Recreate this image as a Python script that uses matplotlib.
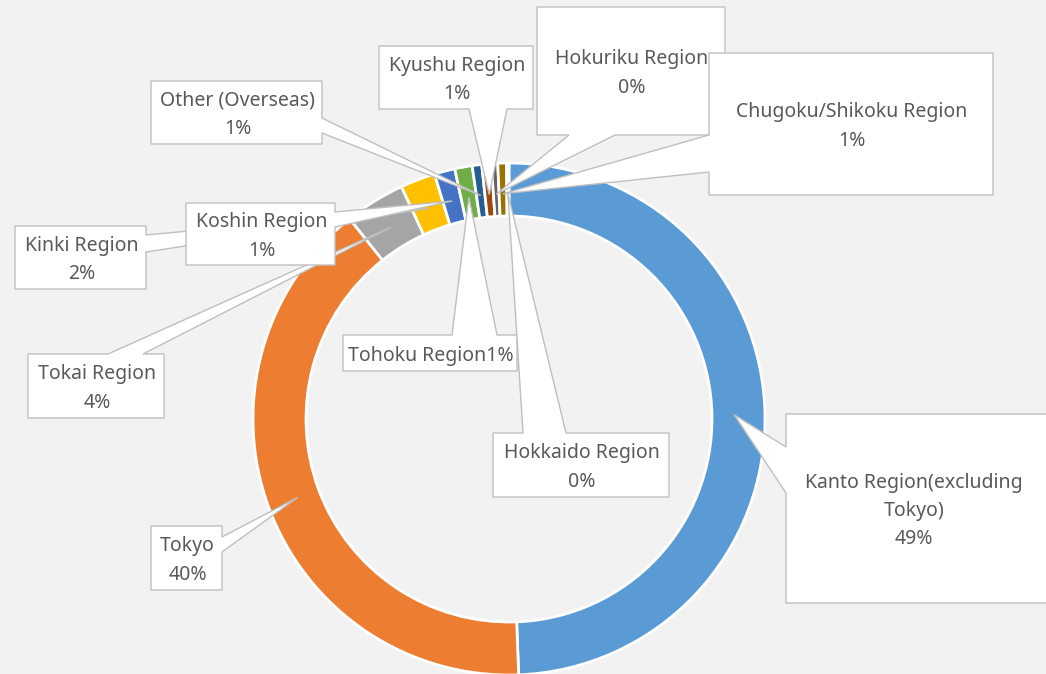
import numpy as np
import matplotlib
matplotlib.use("Agg")
import matplotlib.pyplot as plt
from matplotlib.patches import Polygon

# region shares (percent), clockwise from 12 o'clock
regions = ["Kanto Region(excluding\nTokyo)", "Tokyo", "Tokai Region", "Kinki Region",
           "Koshin Region", "Tohoku Region", "Other (Overseas)", "Kyushu Region",
           "Hokuriku Region", "Chugoku/Shikoku Region", "Hokkaido Region"]
shares = [49.4, 39.9, 3.8, 2.2, 1.3, 1.1, 0.6, 0.6, 0.4, 0.55, 0.15]
colors = ["#5B9BD5", "#ED7D31", "#A5A5A5", "#FFC000", "#4472C4", "#70AD47",
          "#255E91", "#9E480E", "#636363", "#997300", "#264478"]

W, H = 1046, 674
cx, cy, R = 509, 419, 256

# callout boxes in pixel coords: (left, top, right, bottom), tail side, tail base
boxes = [
    ((786, 414, 1060, 603), "left", (447, 493)),
    ((151, 526, 222, 590), "right", (537, 552)),
    ((28, 354, 164, 418), "top", (108, 143)),
    ((15, 226, 146, 289), "right", (235, 252)),
    ((186, 203, 335, 265), "right", (212, 227)),
    ((343, 335, 517, 371), "top", (452, 497)),
    ((151, 81, 322, 144), "right", (118, 133)),
    ((379, 46, 533, 109), "bottom", (469, 507)),
    ((537, 7, 725, 135), "bottom", (569, 615)),
    ((709, 53, 993, 195), "left", (135, 172)),
    ((493, 433, 669, 497), "top", (523, 566)),
]
single_line = {"Tohoku Region"}

fig = plt.figure(figsize=(W / 100, H / 100), dpi=100)
fig.patch.set_facecolor("#F2F2F2")
ax = fig.add_axes([0, 0, 1, 1])
ax.set_facecolor("#F2F2F2")

ax.pie(shares, colors=colors, startangle=90, counterclock=False,
       radius=R, center=(cx, H - cy),
       wedgeprops=dict(width=53, edgecolor="white", linewidth=2))
ax.set_xlim(0, W)
ax.set_ylim(0, H)
ax.set_aspect("equal")
ax.axis("off")

# tip of each callout: mid-angle of slice, inside the ring
cum = np.cumsum(shares)
mids = (cum - np.array(shares) / 2) / cum[-1] * 360
rt = 0.88 * R


def callout(box, side, base, tip, z):
    l, t, r, b = box
    a0, a1 = base
    if side == "left":
        pts = [(l, t), (r, t), (r, b), (l, b), (l, a1), tip, (l, a0)]
    elif side == "right":
        pts = [(l, t), (r, t), (r, a0), tip, (r, a1), (r, b), (l, b)]
    elif side == "top":
        pts = [(l, t), (a0, t), tip, (a1, t), (r, t), (r, b), (l, b)]
    else:
        pts = [(l, t), (r, t), (r, b), (a1, b), tip, (a0, b), (l, b)]
    pts = [(x, H - y) for x, y in pts]
    ax.add_patch(Polygon(pts, closed=True, fc="white", ec="#BFBFBF", lw=1,
                         zorder=z, joinstyle="miter"))


for i, (name, val) in enumerate(zip(regions, shares)):
    ang = np.deg2rad(mids[i])
    tip = (cx + rt * np.sin(ang), cy - rt * np.cos(ang))
    box, side, base = boxes[i]
    callout(box, side, base, tip, 5 + 2 * i)
    pct = f"{int(val + 0.5)}%"
    if name in single_line:
        label = name + pct
    else:
        label = name + "\n" + pct
    l, t, r, b = box
    tx = (l + 1046 - 6) / 2 if r > W else (l + r) / 2
    ax.text(tx + 1, H - (t + b) / 2 - 2.5, label, ha="center", va="center",
            fontsize=14, family="Noto Sans", color="#595959",
            linespacing=1.56, zorder=6 + 2 * i)

fig.savefig("out.png", dpi=100, facecolor=fig.get_facecolor())
